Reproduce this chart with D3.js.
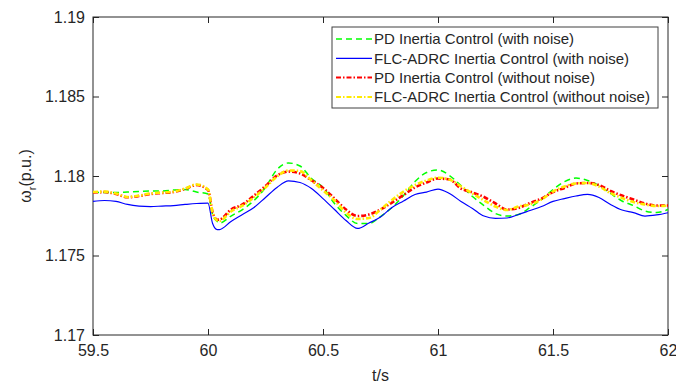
<!DOCTYPE html>
<html>
<head>
<meta charset="utf-8">
<script src="https://cdn.jsdelivr.net/npm/d3@7"></script>
<style>
  body { margin: 0; background: #fff; }
  svg text { font-family: Arial, "Liberation Sans", sans-serif; fill: #262626; }
</style>
</head>
<body>
<div id="chart"></div>
<script>
/* time samples (s) */
var tSec = [59.50, 59.55, 59.60, 59.65, 59.70, 59.75, 59.80, 59.85, 59.90, 59.95, 60.00,
  60.02, 60.04,
  60.05, 60.10, 60.15, 60.20, 60.25, 60.30, 60.35, 60.40, 60.45, 60.50,
  60.55, 60.60, 60.65, 60.70, 60.75, 60.80, 60.85, 60.90, 60.95, 61.00,
  61.05, 61.10, 61.15, 61.20, 61.25, 61.30, 61.35, 61.40, 61.45, 61.50,
  61.55, 61.60, 61.65, 61.70, 61.75, 61.80, 61.85, 61.90, 61.95, 62.00];

/* rotor speed (p.u.) for each controller */
var pdNoise = [1.17899, 1.17896, 1.17896, 1.17899, 1.17902, 1.17906, 1.17906, 1.17912, 1.17915, 1.17899, 1.17887,
  1.17758, 1.17714,
  1.17704, 1.17748, 1.17789, 1.17846, 1.17928, 1.18041, 1.18082, 1.18063, 1.17984, 1.17928,
  1.17827, 1.17752, 1.17701, 1.17701, 1.17745, 1.17802, 1.17877, 1.17965, 1.18022, 1.18038,
  1.18003, 1.17940, 1.17871, 1.17814, 1.17764, 1.17748, 1.17758, 1.17802, 1.17852, 1.17915,
  1.17965, 1.17987, 1.17972, 1.17940, 1.17890, 1.17843, 1.17814, 1.17780, 1.17770, 1.17789];

var flcNoise = [1.17841, 1.17846, 1.17840, 1.17821, 1.17811, 1.17808, 1.17811, 1.17814, 1.17821, 1.17827, 1.17830,
  1.17701, 1.17663,
  1.17663, 1.17714, 1.17758, 1.17802, 1.17865, 1.17928, 1.17969, 1.17959, 1.17921, 1.17858,
  1.17789, 1.17720, 1.17670, 1.17704, 1.17742, 1.17802, 1.17843, 1.17884, 1.17899, 1.17918,
  1.17890, 1.17840, 1.17796, 1.17748, 1.17733, 1.17736, 1.17758, 1.17783, 1.17808, 1.17840,
  1.17858, 1.17874, 1.17884, 1.17865, 1.17821, 1.17786, 1.17770, 1.17748, 1.17755, 1.17769];

var pdClean = [1.17896, 1.17899, 1.17887, 1.17866, 1.17874, 1.17887, 1.17893, 1.17899, 1.17918, 1.17943, 1.17912,
  1.17772, 1.17725,
  1.17726, 1.17789, 1.17821, 1.17877, 1.17937, 1.18003, 1.18028, 1.18016, 1.17972, 1.17925,
  1.17858, 1.17789, 1.17748, 1.17758, 1.17789, 1.17833, 1.17880, 1.17928, 1.17959, 1.17984,
  1.17978, 1.17921, 1.17896, 1.17868, 1.17827, 1.17789, 1.17799, 1.17830, 1.17858, 1.17899,
  1.17925, 1.17953, 1.17956, 1.17943, 1.17906, 1.17877, 1.17852, 1.17827, 1.17814, 1.17814];

var flcClean = [1.17899, 1.17902, 1.17890, 1.17868, 1.17877, 1.17890, 1.17896, 1.17902, 1.17921, 1.17947, 1.17915,
  1.17770, 1.17720,
  1.17717, 1.17777, 1.17814, 1.17865, 1.17928, 1.17997, 1.18035, 1.18031, 1.17972, 1.17909,
  1.17846, 1.17770, 1.17730, 1.17736, 1.17789, 1.17849, 1.17902, 1.17943, 1.17972, 1.17989,
  1.17978, 1.17934, 1.17890, 1.17846, 1.17808, 1.17786, 1.17808, 1.17821, 1.17852, 1.17902,
  1.17934, 1.17953, 1.17956, 1.17934, 1.17893, 1.17862, 1.17836, 1.17821, 1.17811, 1.17814];

var seriesNames = ["PD Inertia Control (with noise)", "FLC-ADRC Inertia Control (with noise)",
  "PD Inertia Control (without noise)", "FLC-ADRC Inertia Control (without noise)"];

var xTicks = [59.5, 60, 60.5, 61, 61.5, 62];
var yTicks = [1.17, 1.175, 1.18, 1.185, 1.19];

/* margin convention */
var margin = { top: 17, right: 8, bottom: 50, left: 93 };
var width = 676 - margin.left - margin.right;
var height = 385 - margin.top - margin.bottom;

var svg = d3.select("#chart").append("svg")
  .attr("width", 676)
  .attr("height", 385);

var g = svg.append("g")
  .attr("transform", "translate(" + margin.left + "," + margin.top + ")");

var x = d3.scaleLinear().domain([59.5, 62]).range([0, width]);
var y = d3.scaleLinear().domain([1.17, 1.19]).range([height, 0]);

var fmt = function(d) { return String(+d.toFixed(3)); };

// axes, ticks pointing inward like matlab
g.append("g")
  .attr("transform", "translate(0," + height + ")")
  .call(d3.axisBottom(x).tickValues(xTicks).tickFormat(fmt).tickSizeInner(-6).tickSizeOuter(0).tickPadding(10));
g.append("g")
  .call(d3.axisLeft(y).tickValues(yTicks).tickFormat(fmt).tickSizeInner(-6).tickSizeOuter(0).tickPadding(8));
g.append("g")
  .call(d3.axisTop(x).tickValues(xTicks).tickFormat("").tickSizeInner(-6).tickSizeOuter(0));
g.append("g")
  .attr("transform", "translate(" + width + ",0)")
  .call(d3.axisRight(y).tickValues(yTicks).tickFormat("").tickSizeInner(-6).tickSizeOuter(0));

g.selectAll(".domain").remove();
g.selectAll(".tick line").attr("stroke", "#262626");
g.selectAll(".tick text").attr("font-size", 16).attr("fill", "#262626");

g.append("rect")
  .attr("width", width).attr("height", height)
  .attr("fill", "none").attr("stroke", "#262626").attr("stroke-width", 1);

/* lines */
var styles = [
  { color: "#00ff00", width: 1.5, dash: "6,4" },
  { color: "#0000ff", width: 1.2, dash: null },
  { color: "#ff0000", width: 2.6, dash: "5,2,1.5,2" },
  { color: "#ffea00", width: 2.6, dash: "5,2,1.5,2" }
];
var allSeries = [pdNoise, flcNoise, pdClean, flcClean];

var line = d3.line()
  .x(function(d, i) { return x(tSec[i]); })
  .y(function(d) { return y(d); })
  .curve(d3.curveMonotoneX);

g.selectAll("path.series").data(allSeries)
  .enter()
    .append("path")
      .attr("class", "series")
      .attr("d", line)
      .attr("fill", "none")
      .attr("stroke", function(d, i) { return styles[i].color; })
      .attr("stroke-width", function(d, i) { return styles[i].width; })
      .attr("stroke-dasharray", function(d, i) { return styles[i].dash; });

/* axis labels */
svg.append("text")
  .attr("x", margin.left + width / 2).attr("y", 381)
  .attr("text-anchor", "middle").attr("font-size", 16)
  .text("t/s");

var yl = svg.append("text")
  .attr("transform", "translate(31," + (margin.top + height / 2) + ") rotate(-90)")
  .attr("text-anchor", "middle").attr("font-size", 16);
yl.append("tspan").text("ω");
yl.append("tspan").attr("font-size", 11).attr("dy", 5).text("r");
yl.append("tspan").attr("dy", -5).text("(p.u.)");

/* legend */
var leg = svg.append("g").attr("transform", "translate(332,27)");
leg.append("rect")
  .attr("width", 326).attr("height", 81)
  .attr("fill", "#fff").attr("stroke", "#404040").attr("stroke-width", 1);

var rows = leg.selectAll("g.row").data(seriesNames)
  .enter()
    .append("g")
      .attr("class", "row")
      .attr("transform", function(d, i) { return "translate(0," + (12 + i * 19.3) + ")"; });

rows.append("line")
  .attr("x1", 4).attr("x2", 40)
  .attr("stroke", function(d, i) { return styles[i].color; })
  .attr("stroke-width", function(d, i) { return Math.min(styles[i].width, 2); })
  .attr("stroke-dasharray", function(d, i) { return styles[i].dash; });

rows.append("text")
  .attr("x", 42).attr("dy", "0.35em")
  .attr("font-size", 15)
  .text(function(d) { return d; });
</script>
</body>
</html>
